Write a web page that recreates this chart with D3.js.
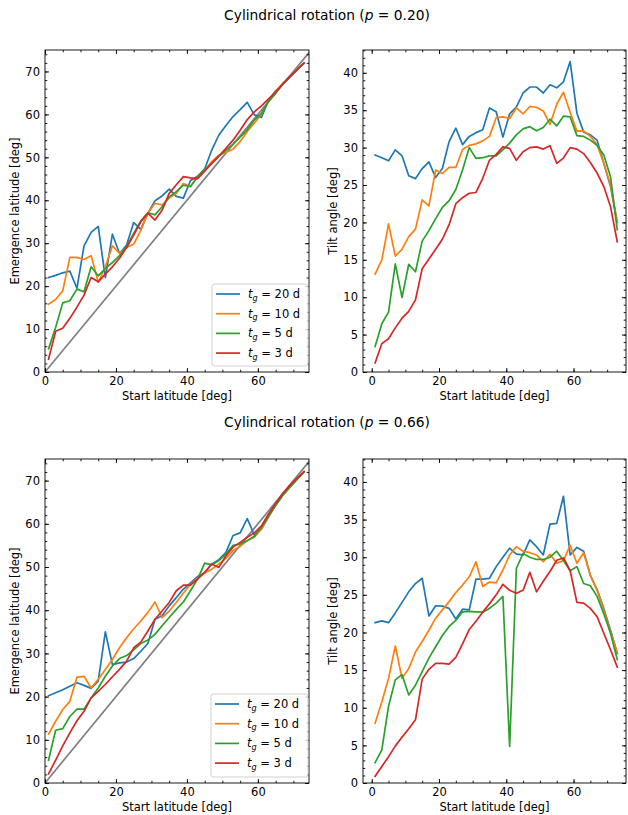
<!DOCTYPE html>
<html>
<head>
<meta charset="utf-8">
<script src="https://cdn.jsdelivr.net/npm/d3@7"></script>
<style>
  body { margin: 0; background: #fff; }
  svg text { font-family: "DejaVu Sans", sans-serif; fill: #000; }
</style>
</head>
<body>
<div id="chart"></div>
<script>
// Start latitudes (deg), shared by every curve
var startLat = [1, 3, 5, 7, 9, 11, 13, 15, 17, 19, 21, 23, 25, 27, 29, 31, 33, 35, 37,
                39, 41, 43, 45, 47, 49, 51, 53, 55, 57, 59, 61, 63, 65, 67, 69, 71, 73];

// p = 0.20 : emergence latitude
var emerg020_tg20 = [22.0, 22.5, 23.1, 23.5, 19.5, 29.4, 32.5, 33.9, 22.0, 32.1, 27.6, 29.6, 34.8, 33.2, 37.0, 39.9, 41.0, 42.6, 40.9,
                     40.5, 44.6, 45.6, 47.3, 51.7, 55.2, 57.4, 59.5, 61.1, 62.8, 59.9, 59.3, 63.3, 65.5, 67.0, 68.6, 70.3, 72.0];
var emerg020_tg10 = [15.8, 16.9, 18.9, 26.7, 26.7, 26.2, 27.1, 20.9, 24.5, 29.4, 27.6, 29.0, 29.8, 33.0, 37.0, 39.3, 38.9, 40.5, 41.6,
                     43.9, 43.2, 45.5, 47.0, 49.0, 50.5, 51.2, 51.9, 53.7, 56.0, 58.0, 60.0, 63.2, 65.3, 67.2, 68.8, 70.5, 71.9];
var emerg020_tg5  = [5.4, 10.4, 16.1, 16.6, 19.3, 18.7, 24.5, 22.4, 24.1, 25.5, 27.1, 29.2, 32.3, 35.2, 37.1, 36.6, 38.5, 40.8, 42.0,
                     43.5, 43.2, 45.5, 47.0, 48.6, 50.2, 51.7, 53.1, 54.7, 56.4, 58.7, 60.2, 63.0, 64.9, 67.1, 68.8, 70.3, 71.9];
var emerg020_tg3  = [3.0, 9.5, 10.2, 12.5, 15.1, 17.9, 22.0, 21.0, 22.8, 24.5, 26.5, 29.0, 31.9, 35.0, 37.0, 35.4, 37.7, 41.6, 43.6,
                     45.5, 45.2, 45.0, 46.8, 48.6, 50.3, 52.1, 54.0, 56.3, 58.8, 60.6, 62.0, 63.6, 65.2, 67.1, 68.8, 70.4, 72.0];

// p = 0.20 : tilt angle
var tilt020_tg20 = [29.0, 28.65, 28.25, 29.7, 28.9, 26.25, 25.85, 27.2, 28.1, 26.0, 27.2, 30.8, 32.6, 30.4, 31.5, 32.0, 32.4, 35.3, 34.8,
                    31.4, 34.5, 35.4, 37.3, 38.1, 38.1, 37.3, 38.4, 38.0, 38.8, 41.5, 34.6, 32.1, 31.7, 31.0, 27.9, 24.8, 20.0];
var tilt020_tg10 = [13.1, 15.0, 19.8, 15.5, 16.4, 18.1, 19.1, 23.0, 22.2, 27.0, 26.55, 27.35, 27.35, 29.75, 30.3, 30.5, 30.9, 31.5, 34.0,
                    34.1, 33.9, 35.3, 34.5, 35.5, 35.4, 34.9, 33.1, 35.8, 37.4, 34.7, 32.2, 32.25, 31.5, 30.4, 27.9, 25.0, 20.0];
var tilt020_tg5  = [3.4, 6.45, 8.0, 14.45, 9.96, 14.4, 13.4, 17.5, 18.9, 20.5, 22.0, 22.9, 24.4, 27.0, 30.0, 28.55, 28.65, 28.9, 28.9,
                    29.7, 30.6, 31.7, 32.5, 32.8, 32.25, 32.7, 33.8, 32.9, 34.2, 34.1, 31.6, 31.5, 31.0, 30.3, 29.0, 26.1, 19.0];
var tilt020_tg3  = [1.2, 3.8, 4.45, 5.9, 7.2, 8.1, 9.65, 13.8, 15.1, 16.4, 17.75, 19.7, 22.5, 23.3, 23.9, 24.0, 25.9, 28.3, 29.1,
                    30.1, 29.9, 28.3, 29.45, 30.0, 30.1, 29.8, 30.25, 27.9, 28.6, 30.0, 29.8, 29.2, 28.0, 26.6, 24.8, 22.1, 17.4];

// p = 0.66 : emergence latitude
var emerg066_tg20 = [20.2, 20.9, 21.6, 22.4, 23.2, 22.6, 21.9, 23.6, 35.0, 27.4, 27.8, 28.0, 28.8, 30.5, 32.3, 37.9, 38.7, 41.0, 42.9,
                     44.9, 46.3, 47.8, 48.6, 50.7, 51.7, 53.4, 57.3, 57.9, 61.2, 57.4, 58.8, 61.6, 64.3, 66.6, 68.5, 70.3, 72.0];
var emerg066_tg10 = [11.3, 14.3, 17.0, 18.9, 24.5, 24.7, 22.0, 24.0, 26.3, 28.6, 31.3, 33.6, 35.7, 37.5, 39.5, 41.9, 38.3, 39.8, 41.8,
                     44.0, 46.0, 47.4, 48.6, 49.5, 50.7, 52.0, 53.8, 54.8, 56.1, 56.9, 58.8, 61.6, 64.3, 66.6, 68.5, 70.3, 72.0];
var emerg066_tg5  = [5.3, 12.2, 12.6, 15.4, 17.1, 17.1, 19.7, 22.0, 24.7, 27.1, 28.8, 29.5, 30.8, 32.3, 33.1, 34.4, 36.4, 38.3, 40.2,
                     41.9, 44.5, 47.2, 50.9, 50.5, 51.5, 53.0, 55.0, 55.3, 56.1, 57.1, 59.2, 61.8, 64.3, 66.6, 68.5, 70.3, 72.0];
var emerg066_tg3  = [2.1, 5.3, 8.6, 11.6, 14.4, 16.6, 19.7, 21.2, 22.8, 24.6, 26.3, 28.2, 31.3, 32.6, 35.2, 37.9, 39.8, 41.8, 44.5,
                     45.8, 45.8, 47.2, 48.8, 50.7, 49.9, 52.6, 54.6, 55.7, 56.9, 57.9, 59.5, 62.3, 64.7, 67.0, 68.9, 70.5, 72.1];

// p = 0.66 : tilt angle
var tilt066_tg20 = [21.3, 21.55, 21.3, 22.6, 24.0, 25.4, 26.5, 27.2, 22.2, 23.55, 23.5, 23.2, 21.8, 23.1, 23.0, 27.1, 27.1, 27.2, 28.75,
                    30.0, 31.2, 30.4, 30.3, 32.3, 31.4, 30.3, 34.4, 34.5, 38.1, 30.3, 31.3, 30.8, 27.6, 25.7, 23.2, 20.3, 17.2];
var tilt066_tg10 = [7.95, 10.8, 13.9, 18.2, 13.9, 15.2, 17.4, 18.8, 20.3, 21.9, 23.0, 24.1, 25.3, 26.3, 27.4, 29.4, 26.1, 26.7, 26.6,
                    28.3, 30.3, 31.4, 30.8, 30.6, 30.3, 29.4, 30.4, 29.2, 29.55, 31.6, 29.2, 30.6, 27.6, 25.6, 23.0, 20.1, 17.35];
var tilt066_tg5  = [2.7, 4.4, 10.2, 13.7, 14.4, 11.7, 13.0, 14.8, 16.6, 18.1, 19.6, 20.8, 21.6, 22.75, 22.8, 22.75, 22.7, 23.2, 23.9,
                    24.8, 4.85, 28.5, 30.5, 30.0, 29.7, 29.7, 30.0, 30.8, 29.55, 28.2, 28.75, 26.5, 26.2, 24.8, 22.5, 19.9, 16.4];
var tilt066_tg3  = [0.9, 2.2, 3.5, 4.9, 6.1, 7.2, 8.4, 13.8, 15.1, 15.9, 15.9, 15.8, 16.7, 18.5, 20.4, 21.5, 22.7, 23.8, 25.0,
                    26.4, 25.6, 25.2, 25.6, 28.0, 25.4, 26.8, 28.1, 29.6, 29.9, 28.2, 24.0, 23.9, 23.2, 22.1, 19.9, 17.7, 15.4];

// growth times (legend) and colours
var growthTimes = ["20", "10", "5", "3"];
var colors = ["#1f77b4", "#ff7f0e", "#2ca02c", "#d62728"];

// diagonal reference line (emergence = start)
var diagLine = [0, 75];

// tick labels
var xTicks = [0, 20, 40, 60];
var emergTicks = [0, 10, 20, 30, 40, 50, 60, 70];
var tiltTicks = [0, 5, 10, 15, 20, 25, 30, 35, 40];

var titles = [
  {p: "0.20", y: 20},
  {p: "0.66", y: 427}
];

var svgWidth = 628;
var svgHeight = 815;
var fontSize = 11.5;

var svg = d3.select("#chart")
  .append("svg")
  .attr("width", svgWidth)
  .attr("height", svgHeight);

// the four panels
var panels = [
  {id: "a", left: 45, top: 50, width: 264, height: 322, kind: "emerg",
   series: [emerg020_tg20, emerg020_tg10, emerg020_tg5, emerg020_tg3],
   legend: {x: 212, y: 284, w: 96, h: 82}},
  {id: "b", left: 363, top: 50, width: 263, height: 322, kind: "tilt",
   series: [tilt020_tg20, tilt020_tg10, tilt020_tg5, tilt020_tg3]},
  {id: "c", left: 45, top: 459, width: 264, height: 324, kind: "emerg",
   series: [emerg066_tg20, emerg066_tg10, emerg066_tg5, emerg066_tg3],
   legend: {x: 211, y: 694, w: 97, h: 83}},
  {id: "d", left: 363, top: 459, width: 263, height: 324, kind: "tilt",
   series: [tilt066_tg20, tilt066_tg10, tilt066_tg5, tilt066_tg3]}
];

// ticks pointing into the plot, plus minor ticks, no domain line
function drawTicks(g, axisFn, scale, major, minor, labels) {
  var ax = axisFn(scale)
    .tickValues(major)
    .tickSize(-4)
    .tickPadding(5)
    .tickFormat(labels ? d3.format("d") : "");
  g.call(ax);
  g.select(".domain").remove();
  var mg = g.append("g");
  mg.call(axisFn(scale).tickValues(minor).tickSize(-2.3).tickFormat(""));
  mg.select(".domain").remove();
  g.attr("font-size", fontSize).attr("font-family", "DejaVu Sans, sans-serif");
  g.selectAll("line").attr("stroke", "#000").attr("stroke-width", 0.9);
  g.selectAll("text").attr("fill", "#000");
}

panels.forEach(function(p) {
  var isEmerg = p.kind === "emerg";

  var x = d3.scaleLinear()
    .domain(isEmerg ? [0, 74.4] : [-2.6, 75.6])
    .range([0, p.width]);
  var y = d3.scaleLinear()
    .domain(isEmerg ? [0, 75] : [0, 43.05])
    .range([p.height, 0]);

  var g = svg.append("g")
    .attr("transform", `translate(${p.left},${p.top})`);

  g.append("clipPath")
    .attr("id", "clip-" + p.id)
    .append("rect")
    .attr("width", p.width)
    .attr("height", p.height);

  var plotArea = g.append("g").attr("clip-path", `url(#clip-${p.id})`);

  if (isEmerg) {
    plotArea.append("line")
      .attr("x1", x(diagLine[0])).attr("y1", y(diagLine[0]))
      .attr("x2", x(diagLine[1])).attr("y2", y(diagLine[1]))
      .attr("stroke", "#808080")
      .attr("stroke-width", 1.7);
  }

  var line = d3.line()
    .x(function(d, i) { return x(startLat[i]); })
    .y(function(d) { return y(d); });

  p.series.forEach(function(vals, i) {
    plotArea.append("path")
      .datum(vals)
      .attr("d", line)
      .attr("fill", "none")
      .attr("stroke", colors[i])
      .attr("stroke-width", 1.7)
      .attr("stroke-linejoin", "round")
      .attr("stroke-linecap", "square");
  });

  // axes on all four sides
  var minorX = d3.range(x.domain()[0] < 0 ? 0 : 0, 75, 5);
  var yMajor = isEmerg ? emergTicks : tiltTicks;
  var minorY = isEmerg ? d3.range(0, 75, 2) : d3.range(0, 44, 1);

  drawTicks(g.append("g").attr("transform", `translate(0,${p.height})`),
    d3.axisBottom, x, xTicks, minorX, true);
  drawTicks(g.append("g"), d3.axisTop, x, xTicks, minorX, false);
  drawTicks(g.append("g"), d3.axisLeft, y, yMajor, minorY, true);
  drawTicks(g.append("g").attr("transform", `translate(${p.width},0)`),
    d3.axisRight, y, yMajor, minorY, false);

  // frame
  g.append("rect")
    .attr("width", p.width)
    .attr("height", p.height)
    .attr("fill", "none")
    .attr("stroke", "#000")
    .attr("stroke-width", 0.9);

  // axis labels
  g.append("text")
    .attr("x", p.width / 2)
    .attr("y", p.height + 28)
    .attr("text-anchor", "middle")
    .attr("font-size", fontSize)
    .text("Start latitude [deg]");

  g.append("text")
    .attr("transform", `translate(${isEmerg ? -26.5 : -26},${p.height / 2}) rotate(-90)`)
    .attr("text-anchor", "middle")
    .attr("font-size", fontSize)
    .text(isEmerg ? "Emergence latitude [deg]" : "Tilt angle [deg]");

  // legend
  if (p.legend) {
    var L = p.legend;
    var lg = svg.append("g").attr("transform", `translate(${L.x},${L.y})`);
    lg.append("rect")
      .attr("width", L.w)
      .attr("height", L.h)
      .attr("rx", 2.5)
      .attr("fill", "#fff")
      .attr("fill-opacity", 0.8)
      .attr("stroke", "#cccccc")
      .attr("stroke-width", 0.9);

    growthTimes.forEach(function(t, i) {
      var rowY = 10 + i * 19.7;
      lg.append("line")
        .attr("x1", 4).attr("x2", 28)
        .attr("y1", rowY).attr("y2", rowY)
        .attr("stroke", colors[i])
        .attr("stroke-width", 1.7);
      var txt = lg.append("text")
        .attr("x", 36)
        .attr("y", rowY + 4)
        .attr("font-size", fontSize);
      txt.append("tspan").attr("font-style", "italic").text("t");
      txt.append("tspan").attr("font-style", "italic")
        .attr("font-size", fontSize * 0.7)
        .attr("dy", 2.5)
        .text("g");
      txt.append("tspan").attr("dy", -2.5).text(" = " + t + " d");
    });
  }
});

// row titles
titles.forEach(function(t) {
  var tt = svg.append("text")
    .attr("x", 327)
    .attr("y", t.y)
    .attr("text-anchor", "middle")
    .attr("font-size", 13.8);
  tt.append("tspan").text("Cylindrical rotation (");
  tt.append("tspan").attr("font-style", "italic").text("p");
  tt.append("tspan").text(" = " + t.p + ")");
});
</script>
</body>
</html>
